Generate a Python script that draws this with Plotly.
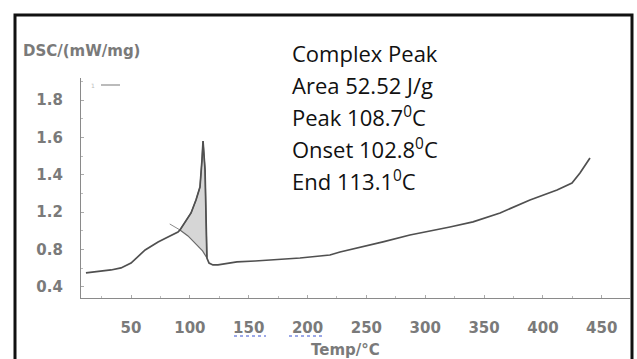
import plotly.graph_objects as go

# ---- data ----
temp = [11.7, 33.0, 41.5, 50.0, 62.0, 73.0, 81.4, 89.9, 91.6, 95.9, 101.0, 105.2,
        108.6, 110.3, 111.2, 112.9, 113.7, 114.5, 116.3, 119.6, 123.9, 140.0,
        155.4, 193.6, 219.0, 227.6, 264.1, 287.0, 321.0, 340.6, 363.6, 389.0,
        412.0, 424.7, 431.5, 440.0]
dsc = [0.875, 0.891, 0.902, 0.928, 0.998, 1.041, 1.067, 1.094, 1.105, 1.148, 1.196, 1.265,
       1.335, 1.479, 1.581, 1.426, 1.158, 0.955, 0.928, 0.918, 0.918, 0.934,
       0.939, 0.955, 0.971, 0.987, 1.041, 1.078, 1.121, 1.148, 1.196, 1.265,
       1.319, 1.356, 1.410, 1.490]

# peak area (upper boundary = curve, lower boundary = integration baseline)
peak_temp = [91.6, 95.9, 101.0, 105.2, 108.6, 110.3, 111.2, 112.9, 113.7, 114.5]
peak_dsc = [1.105, 1.148, 1.196, 1.265, 1.335, 1.479, 1.581, 1.426, 1.158, 0.955]
base_temp = [114.5, 110.8, 105.2, 98.4, 91.6]
base_dsc = [0.955, 0.993, 1.030, 1.073, 1.105]
onset_temp = [82.9, 91.6]
onset_dsc = [1.137, 1.105]

x_ticks = [50, 100, 150, 200, 250, 300, 350, 400, 450]
y_tick_pos = [0.8, 1.0, 1.2, 1.4, 1.6, 1.8]
y_tick_text = ["0.4", "0.8", "1.2", "1.4", "1.6", "1.8"]

info_lines = ["Complex Peak", "Area 52.52 J/g", "Peak 108.7<sup>0</sup>C",
              "Onset 102.8<sup>0</sup>C", "End 113.1<sup>0</sup>C"]

# ---- figure ----
W, H = 637, 359
L, R, T, B = 81, 7, 78, 61
pw, ph = W - L - R, H - T - B

def px(xp):
    return (xp - L) / pw

def py(yp):
    return (H - B - yp) / ph

fig = go.Figure()
fig.add_trace(go.Scatter(
    x=peak_temp + base_temp, y=peak_dsc + base_dsc, mode="lines",
    fill="toself", fillcolor="#d6d6d6",
    line=dict(color="#6a6a6a", width=1.2), hoverinfo="skip", showlegend=False))
fig.add_trace(go.Scatter(
    x=onset_temp, y=onset_dsc, mode="lines",
    line=dict(color="#8a8a8a", width=1), showlegend=False))
fig.add_trace(go.Scatter(
    x=temp, y=dsc, mode="lines",
    line=dict(color="#505050", width=1.7), showlegend=False))

font_ax = dict(family="DejaVu Sans", size=15, color="#7a7a7a", weight="bold")

fig.update_xaxes(range=[7.5, 474.0], tickvals=x_ticks, showgrid=False, zeroline=False,
                 showline=True, linecolor="#8a8a8a", linewidth=1.2, automargin=False,
                 ticks="inside", ticklen=3, tickcolor="#aaaaaa",
                 minor=dict(ticks="inside", ticklen=2, dtick=25, tickcolor="#bbbbbb"),
                 tickfont=font_ax, ticklabelstandoff=16)
fig.update_yaxes(range=[0.741, 1.918], tickvals=y_tick_pos, ticktext=y_tick_text,
                 showgrid=False, zeroline=False, automargin=False,
                 showline=True, linecolor="#8a8a8a", linewidth=1.2,
                 ticks="inside", ticklen=3, tickcolor="#aaaaaa",
                 minor=dict(ticks="inside", ticklen=2, dtick=0.1, tickcolor="#bbbbbb"),
                 tickfont=font_ax, ticklabelstandoff=14)

annotations = []
annotations.append(dict(x=px(21), y=py(51), xref="paper", yref="paper", text="DSC/(mW/mg)",
                        showarrow=False, xanchor="left", yanchor="middle",
                        font=dict(family="DejaVu Sans", size=15, color="#7a7a7a", weight="bold")))
annotations.append(dict(x=px(345), y=py(350), xref="paper", yref="paper", text="Temp/°C",
                        showarrow=False, xanchor="center", yanchor="middle",
                        font=dict(family="DejaVu Sans", size=15, color="#7a7a7a", weight="bold")))
annotations.append(dict(x=px(89), y=py(85), xref="paper", yref="paper", text="1",
                        showarrow=False, xanchor="left", yanchor="middle",
                        font=dict(family="DejaVu Sans", size=6, color="#bbbbbb")))
line_y = [53, 85, 116, 148, 180]
for txt, yy in zip(info_lines, line_y):
    annotations.append(dict(x=px(290), y=py(yy), xref="paper", yref="paper", text=txt,
                            showarrow=False, xanchor="left", yanchor="middle",
                            font=dict(family="Open Sans", size=22, color="#111111")))

shapes = [
    dict(type="rect", xref="paper", yref="paper", x0=px(15), x1=px(632), y0=py(370), y1=py(15),
         line=dict(color="#111111", width=3), fillcolor="rgba(0,0,0,0)", layer="above"),
    dict(type="line", xref="paper", yref="paper", x0=px(101), x1=px(120), y0=py(85), y1=py(85),
         line=dict(color="#bbbbbb", width=2)),
    dict(type="line", xref="paper", yref="paper", x0=px(234), x1=px(266), y0=py(336), y1=py(336),
         line=dict(color="#3850d0", width=1, dash="dot")),
    dict(type="line", xref="paper", yref="paper", x0=px(289), x1=px(323), y0=py(336), y1=py(336),
         line=dict(color="#3850d0", width=1, dash="dot")),
]

fig.update_layout(width=W, height=H, margin=dict(l=L, r=R, t=T, b=B, autoexpand=False),
                  paper_bgcolor="white", plot_bgcolor="white",
                  annotations=annotations, shapes=shapes, showlegend=False)
fig.write_html("out.html", config={"displayModeBar": False},
               post_script="document.body.style.margin='0px';")
